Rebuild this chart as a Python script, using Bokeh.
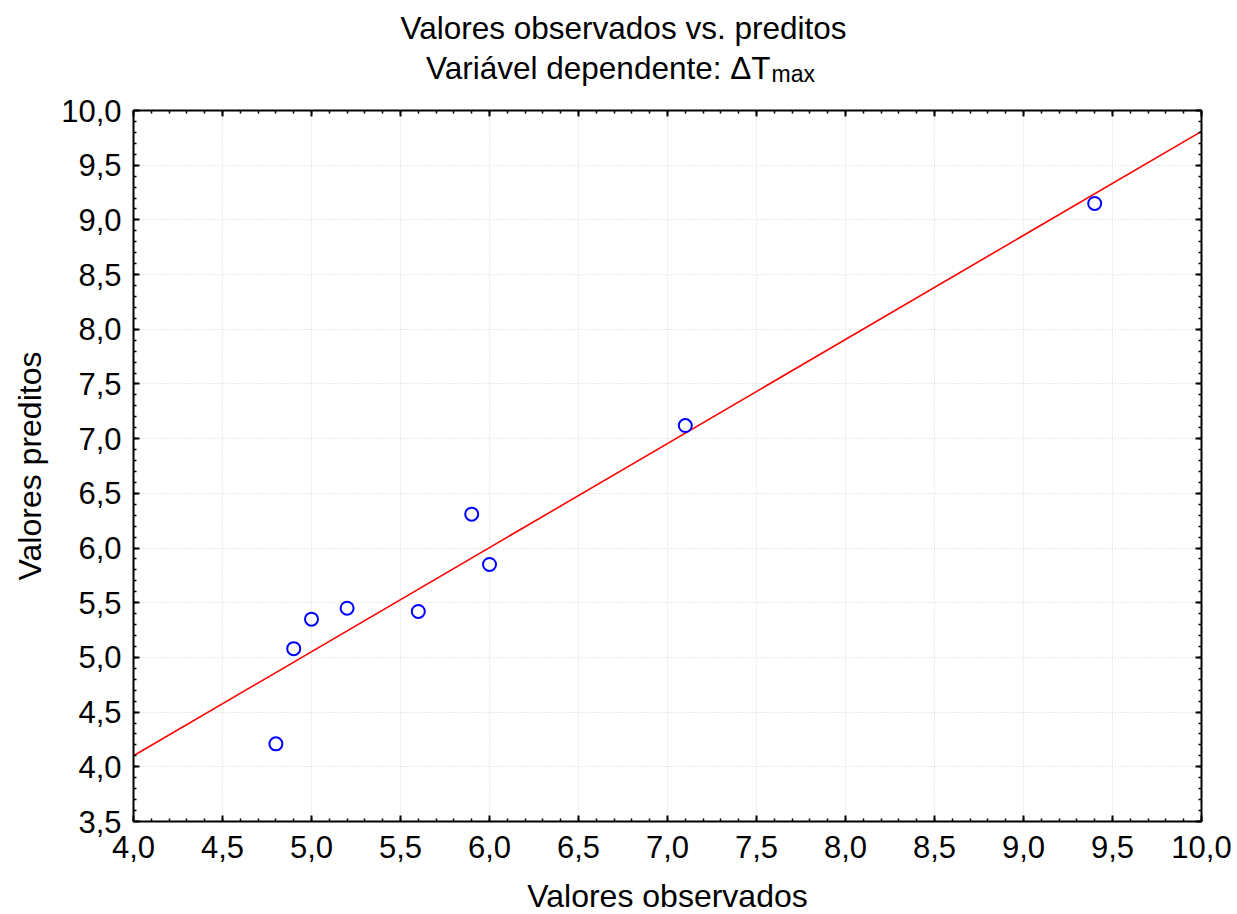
import numpy as np
from bokeh.plotting import figure
from bokeh.models import LinearAxis, FixedTicker, Range1d
from bokeh.layouts import column
from bokeh.core.properties import value
from bokeh.embed import file_html
from bokeh.resources import INLINE

# ---- data ----
observed = [4.8, 4.9, 5.0, 5.2, 5.6, 5.9, 6.0, 7.1, 9.4]
predicted = [4.21, 5.08, 5.35, 5.45, 5.42, 6.31, 5.85, 7.12, 9.15]
x_ticks = [4.0, 4.5, 5.0, 5.5, 6.0, 6.5, 7.0, 7.5, 8.0, 8.5, 9.0, 9.5, 10.0]
y_ticks = [3.5, 4.0, 4.5, 5.0, 5.5, 6.0, 6.5, 7.0, 7.5, 8.0, 8.5, 9.0, 9.5, 10.0]
x_tick_labels = ["4,0", "4,5", "5,0", "5,5", "6,0", "6,5", "7,0", "7,5", "8,0", "8,5", "9,0", "9,5", "10,0"]
y_tick_labels = ["3,5", "4,0", "4,5", "5,0", "5,5", "6,0", "6,5", "7,0", "7,5", "8,0", "8,5", "9,0", "9,5", "10,0"]
title_line1 = "Valores observados vs. preditos"
title_line2 = "Variável dependente: ΔT"
title_sub = "max"
x_title = "Valores observados"
y_title = "Valores preditos"

FONT = "Liberation Sans"
LEFT, RIGHT, FW = 133, 36, 1068

# regression line fitted to the points
slope, intercept = np.polyfit(observed, predicted, 1)
line_x = [x_ticks[0], x_ticks[-1]]
line_y = [intercept + slope * v for v in line_x]

# ---- title strip (coordinates = page pixels) ----
TH = 91
CORR = 10
t = figure(frame_width=FW, frame_height=TH, x_range=Range1d(LEFT, LEFT + FW), y_range=Range1d(0, TH),
           output_backend="svg", toolbar_location=None, x_axis_type=None, y_axis_type=None,
           min_border_left=LEFT, min_border_right=RIGHT, min_border_top=0, min_border_bottom=0)
t.outline_line_color = None
t.xgrid.visible = False
t.ygrid.visible = False
t.text(x=[623], y=[TH - 37 + CORR], text=[title_line1], text_align="center", text_baseline="alphabetic",
       text_font=value(FONT), text_font_size="31.5px", text_color="black")
t.text(x=[770], y=[TH - 77 + CORR], text=[title_line2], text_align="right", text_baseline="alphabetic",
       text_font=value(FONT), text_font_size="31.5px", text_color="black")
t.text(x=[771], y=[TH - 83 + CORR], text=[title_sub], text_align="left", text_baseline="alphabetic",
       text_font=value(FONT), text_font_size="23px", text_color="black")

# ---- main plot ----
p = figure(frame_width=FW, frame_height=711,
           x_range=Range1d(x_ticks[0], x_ticks[-1]), y_range=Range1d(y_ticks[0], y_ticks[-1]),
           output_backend="svg", toolbar_location=None,
           min_border_left=LEFT, min_border_right=RIGHT, min_border_top=110 - TH, min_border_bottom=93,
           background_fill_color="white", border_fill_color="white")
p.outline_line_color = None

xminor = [round(v, 2) for v in np.arange(4.0, 10.0001, 0.1)]
yminor = [round(v, 2) for v in np.arange(3.5, 10.0001, 0.1)]
xt = FixedTicker(ticks=x_ticks, minor_ticks=xminor)
yt = FixedTicker(ticks=y_ticks, minor_ticks=yminor)

p.xaxis.ticker = xt
p.yaxis.ticker = yt
p.xaxis.major_label_overrides = {v: s for v, s in zip(x_ticks, x_tick_labels)}
p.yaxis.major_label_overrides = {v: s for v, s in zip(y_ticks, y_tick_labels)}

top = LinearAxis(ticker=FixedTicker(ticks=x_ticks, minor_ticks=xminor))
right = LinearAxis(ticker=FixedTicker(ticks=y_ticks, minor_ticks=yminor))
p.add_layout(top, "above")
p.add_layout(right, "right")
for ax in (top, right):
    ax.major_label_text_font_size = "0px"
    ax.major_label_text_color = None
    ax.major_label_standoff = 0

for ax in p.axis:
    ax.axis_line_color = "black"
    ax.axis_line_width = 2
    ax.major_tick_in = 6
    ax.major_tick_out = 0
    ax.minor_tick_in = 3
    ax.minor_tick_out = 0
    ax.major_tick_line_color = "black"
    ax.major_tick_line_width = 2
    ax.minor_tick_line_color = "black"
    ax.minor_tick_line_width = 1.5

bx = p.below[0]
ly = p.left[0]
bx.major_label_text_font = FONT
bx.major_label_text_font_size = "31px"
bx.major_label_text_color = "black"
bx.major_label_standoff = 14
bx.axis_label = x_title
bx.axis_label_text_font = FONT
bx.axis_label_text_font_size = "32px"
bx.axis_label_text_font_style = "normal"
bx.axis_label_text_color = "black"
bx.axis_label_standoff = 17

ly.major_label_text_font = FONT
ly.major_label_text_font_size = "31px"
ly.major_label_text_color = "black"
ly.major_label_standoff = 12
ly.axis_label = y_title
ly.axis_label_text_font = FONT
ly.axis_label_text_font_size = "32px"
ly.axis_label_text_font_style = "normal"
ly.axis_label_text_color = "black"
ly.axis_label_standoff = 10

p.xgrid.ticker = xt
p.ygrid.ticker = yt
for g in (p.xgrid, p.ygrid):
    g.grid_line_color = "#d4d4d4"
    g.grid_line_dash = "1 2"
    g.grid_line_width = 1

p.line(line_x, line_y, line_color="#ff0000", line_width=1.6)
p.scatter(observed, predicted, marker="circle", size=13, fill_color=None,
          line_color="#0000ff", line_width=2)

layout = column(t, p, spacing=0)
open("out.html", "w").write(file_html(layout, INLINE))
